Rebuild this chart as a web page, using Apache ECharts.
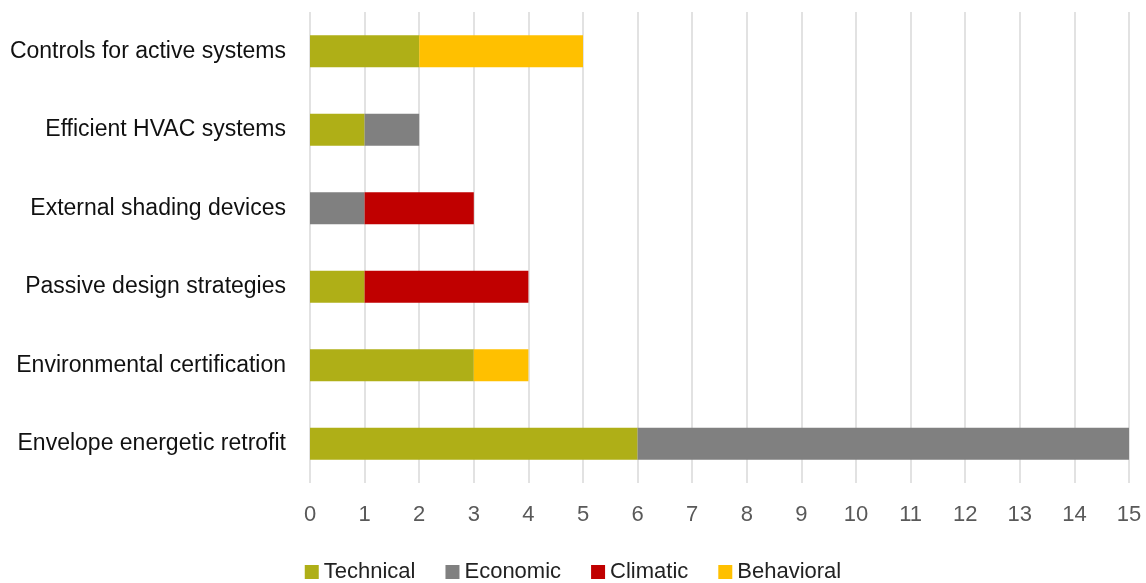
<!DOCTYPE html>
<html><head><meta charset="utf-8">
<script src="https://cdn.jsdelivr.net/npm/echarts@6/dist/echarts.min.js"></script>
<style>html,body{margin:0;padding:0;background:#fff}#c{width:1146px;height:583px}</style>
</head><body><div id="c"></div>
<script>
const categories = ["Envelope energetic retrofit","Environmental certification","Passive design strategies","External shading devices","Efficient HVAC systems","Controls for active systems"];
const technical  = [6, 3, 1, null, 1, 2];
const economic   = [9, null, null, 1, 1, null];
const climatic   = [null, null, 3, 2, null, null];
const behavioral = [null, 1, null, null, null, 3];
const seriesNames = ["Technical","Economic","Climatic","Behavioral"];
const colors = ["#AFAF17","#808080","#C00000","#FFC000"];
const font = "Liberation Sans";
const chart = echarts.init(document.getElementById('c'));
const mk = (name, data, color) => ({name, type:'bar', stack:'s', data, itemStyle:{color}, barCategoryGap:'59%'});
chart.setOption({
  animation:false,
  textStyle:{fontFamily:font},
  grid:{left:310, right:17, top:12, bottom:100},
  legend:{top:556, left:'center', itemWidth:14, itemHeight:14, itemGap:30, icon:'rect',
    textStyle:{fontSize:22, color:'#222', fontFamily:font}, data:seriesNames},
  xAxis:{type:'value', min:0, max:15, interval:1,
    axisLine:{show:false}, axisTick:{show:false},
    splitLine:{lineStyle:{color:'#d9d9d9', width:1.5}},
    axisLabel:{fontSize:22, color:'#595959', margin:21, fontFamily:font}},
  yAxis:{type:'category', data:categories,
    axisLine:{show:false}, axisTick:{show:false},
    axisLabel:{fontSize:23, color:'#111', margin:24, fontFamily:font}},
  series:[mk(seriesNames[0],technical,colors[0]),mk(seriesNames[1],economic,colors[1]),mk(seriesNames[2],climatic,colors[2]),mk(seriesNames[3],behavioral,colors[3])]
});
</script></body></html>
